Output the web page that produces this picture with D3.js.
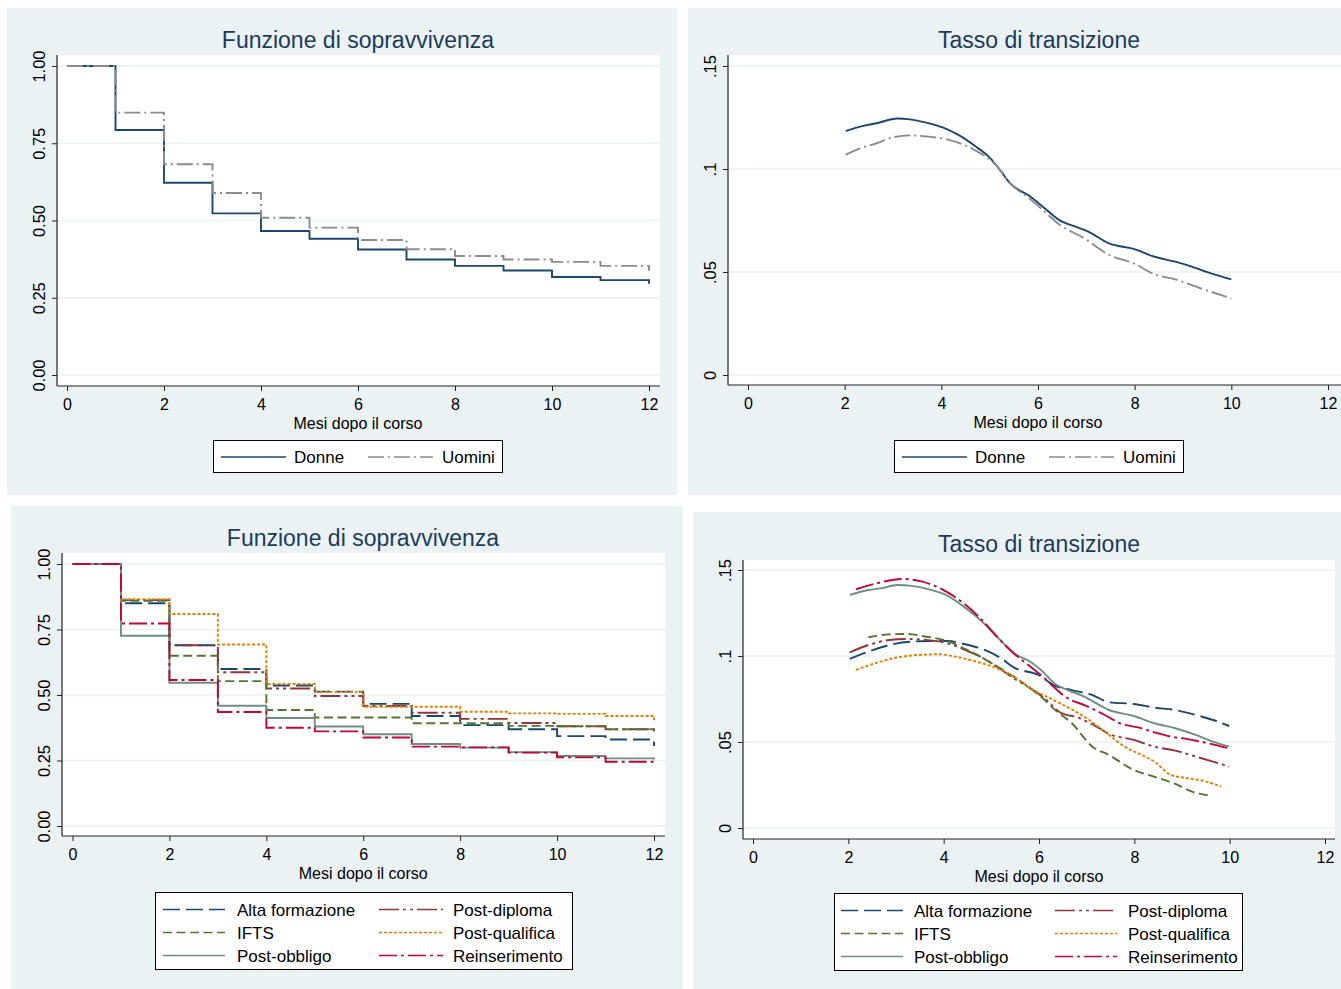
<!DOCTYPE html>
<html>
<head>
<meta charset="utf-8">
<script src="https://cdn.jsdelivr.net/npm/d3@7"></script>
<style>
  body { margin: 0; background: #fff; }
  svg { display: block; font-family: "Liberation Sans", Arial, sans-serif; }
</style>
</head>
<body>
<svg id="chart" width="1341" height="989"></svg>
<script>
// ---- data ----
const xTicks = [0, 2, 4, 6, 8, 10, 12];
const survTicks = [0, 0.25, 0.5, 0.75, 1];
const hazTicks = [0, 0.05, 0.1, 0.15];
const titles = ["Funzione di sopravvivenza", "Tasso di transizione"];
const xTitle = "Mesi dopo il corso";

// survival: value on [m, m+1), last value = value at 12
const months = d3.range(0, 13);
const survDonne  = [1, 0.793, 0.622, 0.523, 0.466, 0.441, 0.406, 0.374, 0.353, 0.338, 0.317, 0.307, 0.295];
const survUomini = [1, 0.849, 0.682, 0.589, 0.509, 0.477, 0.437, 0.407, 0.385, 0.374, 0.366, 0.353, 0.337];

const survAlta    = [1, 0.850, 0.690, 0.599, 0.536, 0.513, 0.466, 0.420, 0.385, 0.369, 0.343, 0.330, 0.305];
const survPostDip = [1, 0.862, 0.690, 0.587, 0.525, 0.496, 0.458, 0.432, 0.409, 0.393, 0.381, 0.369, 0.360];
const survIfts    = [1, 0.860, 0.650, 0.553, 0.443, 0.414, 0.414, 0.392, 0.392, 0.382, 0.381, 0.369, 0.364];
const survPostQua = [1, 0.866, 0.809, 0.693, 0.542, 0.512, 0.455, 0.455, 0.436, 0.430, 0.428, 0.420, 0.404];
const survPostObb = [1, 0.726, 0.547, 0.459, 0.412, 0.380, 0.350, 0.313, 0.299, 0.282, 0.267, 0.258, 0.254];
const survReins   = [1, 0.773, 0.557, 0.435, 0.375, 0.361, 0.338, 0.303, 0.300, 0.280, 0.262, 0.245, 0.240];

// hazard (smoothed)
const hazDonneT  = [2.02, 2.32, 2.66, 3.09, 3.35, 3.69, 4.04, 4.38, 4.72, 4.98, 5.24, 5.41, 5.84, 6.10, 6.44, 6.78, 7.04, 7.47, 7.98, 8.41, 8.84, 9.18, 9.52, 10.0];
const hazDonne   = [0.1184, 0.1206, 0.1222, 0.1245, 0.1241, 0.1225, 0.1201, 0.1162, 0.1108, 0.1060, 0.0987, 0.0934, 0.0866, 0.0817, 0.0752, 0.0720, 0.0696, 0.0639, 0.0612, 0.0574, 0.0550, 0.0526, 0.0498, 0.0464];
const hazUominiT = [2.02, 2.32, 2.66, 3.0, 3.35, 3.69, 4.12, 4.47, 4.81, 5.15, 5.41, 5.84, 6.10, 6.44, 6.96, 7.47, 7.98, 8.41, 8.84, 9.36, 10.0];
const hazUomini  = [0.1069, 0.1100, 0.1125, 0.1154, 0.1163, 0.1158, 0.1144, 0.1117, 0.1076, 0.1015, 0.0934, 0.0854, 0.0801, 0.0731, 0.0663, 0.0583, 0.0542, 0.0489, 0.0464, 0.0421, 0.0372];

const hazAltaT    = [2.03, 2.42, 2.86, 3.29, 3.73, 4.08, 4.42, 4.86, 5.21, 5.47, 5.99, 6.34, 6.69, 7.12, 7.47, 7.99, 8.42, 8.86, 9.29, 9.65, 9.99];
const hazAlta     = [0.0983, 0.1025, 0.1064, 0.1083, 0.1087, 0.1087, 0.1070, 0.1035, 0.0986, 0.0934, 0.0890, 0.0826, 0.0802, 0.0773, 0.0731, 0.0721, 0.0700, 0.0686, 0.0657, 0.0628, 0.0593];
const hazPostDipT = [2.03, 2.42, 2.86, 3.21, 3.64, 4.08, 4.42, 4.77, 5.12, 5.47, 5.82, 6.16, 6.42, 6.86, 7.21, 7.47, 7.99, 8.42, 8.86, 9.29, 9.65, 9.99];
const hazPostDip  = [0.1021, 0.1064, 0.1093, 0.1099, 0.1093, 0.1074, 0.1039, 0.0996, 0.0938, 0.0870, 0.0812, 0.0744, 0.0676, 0.0638, 0.0589, 0.0547, 0.0512, 0.0473, 0.0450, 0.0415, 0.0386, 0.0357];
const hazIftsT    = [2.42, 2.86, 3.21, 3.64, 4.08, 4.42, 4.77, 5.12, 5.47, 5.82, 6.08, 6.34, 6.69, 7.12, 7.47, 7.99, 8.42, 8.86, 9.21, 9.60];
const hazIfts     = [0.1109, 0.1126, 0.1128, 0.1112, 0.1087, 0.1045, 0.0996, 0.0938, 0.0880, 0.0812, 0.0754, 0.0686, 0.0609, 0.0473, 0.0424, 0.0337, 0.0298, 0.0256, 0.0211, 0.0188];
const hazPostQuaT = [2.16, 2.60, 3.03, 3.47, 3.90, 4.25, 4.69, 5.12, 5.47, 5.82, 6.16, 6.51, 6.95, 7.38, 7.82, 8.16, 8.42, 8.77, 9.12, 9.47, 9.82];
const hazPostQua  = [0.0919, 0.0961, 0.0992, 0.1006, 0.1010, 0.0996, 0.0967, 0.0928, 0.0880, 0.0812, 0.0764, 0.0715, 0.0647, 0.0560, 0.0469, 0.0424, 0.0386, 0.0308, 0.0289, 0.0273, 0.0240];
const hazPostObbT = [2.03, 2.42, 2.68, 3.03, 3.29, 3.73, 4.08, 4.42, 4.77, 5.12, 5.47, 5.82, 6.08, 6.34, 6.60, 6.95, 7.47, 7.99, 8.42, 8.86, 9.29, 9.65, 9.99];
const hazPostObb  = [0.1355, 0.1384, 0.1393, 0.1413, 0.1409, 0.1384, 0.1351, 0.1287, 0.1209, 0.1112, 0.1016, 0.0967, 0.0909, 0.0837, 0.0802, 0.0764, 0.0686, 0.0651, 0.0609, 0.0580, 0.0541, 0.0502, 0.0473];
const hazReinsT   = [2.16, 2.60, 3.12, 3.55, 3.99, 4.42, 4.77, 5.12, 5.47, 5.82, 6.08, 6.34, 6.60, 6.95, 7.38, 7.73, 8.08, 8.42, 8.77, 9.12, 9.56, 9.99];
const hazReins    = [0.1388, 0.1423, 0.1448, 0.1432, 0.1384, 0.1306, 0.1219, 0.1112, 0.1016, 0.0938, 0.0880, 0.0812, 0.0754, 0.0715, 0.0657, 0.0605, 0.0585, 0.0556, 0.0531, 0.0517, 0.0492, 0.0463];

// ---- styles ----
const styles = {
  "Donne":           { color: "#1a476f", dash: null },
  "Uomini":          { color: "#8c8c8c", dash: "16,4,2,4" },
  "Alta formazione": { color: "#1a476f", dash: "17,6" },
  "Post-diploma":    { color: "#90353b", dash: "20,4,3,4,3,4" },
  "IFTS":            { color: "#55752f", dash: "9,4.5" },
  "Post-qualifica":  { color: "#e37e00", dash: "3,2" },
  "Post-obbligo":    { color: "#6e8e84", dash: null },
  "Reinserimento":   { color: "#c10534", dash: "18,4,3,4" }
};

const bgColor = "#eaf2f3";
const titleColor = "#1c3b5e";
const svg = d3.select("#chart");

function survSeries(name, vals) {
  return { name, pts: months.map((m, i) => [m, vals[i]]), step: true };
}
function hazSeries(name, ts, vals) {
  return { name, pts: ts.map((t, i) => [t, vals[i]]), step: false };
}

function drawPanel(cfg) {
  const g = svg.append("g");
  const [pl, pt, pr, pb] = cfg.plot;

  g.append("rect")
    .attr("x", cfg.bg[0]).attr("y", cfg.bg[1])
    .attr("width", cfg.bg[2]).attr("height", cfg.bg[3])
    .attr("fill", bgColor);

  g.append("rect")
    .attr("x", pl).attr("y", pt)
    .attr("width", pr - pl).attr("height", pb - pt)
    .attr("fill", "#fff");

  const x = d3.scaleLinear().domain([0, 12]).range(cfg.xr);
  const y = d3.scaleLinear().domain(cfg.yd).range(cfg.yr);

  g.selectAll("line.grid")
    .data(cfg.yticks)
    .join("line")
    .attr("class", "grid")
    .attr("x1", pl).attr("x2", pr)
    .attr("y1", d => y(d)).attr("y2", d => y(d))
    .attr("stroke", bgColor)
    .attr("stroke-width", 1.6);

  const line = d3.line().x(d => x(d[0])).y(d => y(d[1]));

  cfg.series.forEach(s => {
    line.curve(s.step ? d3.curveStepAfter : d3.curveMonotoneX);
    g.append("path")
      .attr("d", line(s.pts))
      .attr("fill", "none")
      .attr("stroke", styles[s.name].color)
      .attr("stroke-width", 1.9)
      .attr("stroke-dasharray", styles[s.name].dash);
  });

  // y axis
  const ya = g.append("g")
    .attr("transform", `translate(${pl},0)`)
    .call(d3.axisLeft(y).tickValues(cfg.yticks).tickFormat(cfg.yfmt).tickSize(5).tickSizeOuter(0));
  ya.select(".domain").remove();
  ya.selectAll("line").attr("stroke", "#222");
  ya.selectAll("text")
    .attr("x", 0).attr("dy", 0)
    .attr("transform", "translate(-12,0) rotate(-90)")
    .attr("text-anchor", "middle")
    .attr("font-size", 16.5)
    .attr("font-family", "Liberation Sans, Arial, sans-serif")
    .attr("fill", "#000");

  // x axis
  const xa = g.append("g")
    .attr("transform", `translate(0,${pb})`)
    .call(d3.axisBottom(x).tickValues(xTicks).tickSize(5).tickSizeOuter(0).tickPadding(8));
  xa.select(".domain").remove();
  xa.selectAll("line").attr("stroke", "#222");
  xa.selectAll("text")
    .attr("font-size", 16)
    .attr("font-family", "Liberation Sans, Arial, sans-serif")
    .attr("fill", "#000");

  g.append("line").attr("x1", pl).attr("x2", pl).attr("y1", pt).attr("y2", pb)
    .attr("stroke", "#222").attr("stroke-width", 1.2);
  g.append("line").attr("x1", pl).attr("x2", pr).attr("y1", pb).attr("y2", pb)
    .attr("stroke", "#222").attr("stroke-width", 1.2);

  g.append("text")
    .attr("x", cfg.titleX).attr("y", cfg.titleY)
    .attr("text-anchor", "middle")
    .attr("font-size", 23)
    .attr("fill", titleColor)
    .text(cfg.title);

  g.append("text")
    .attr("x", (cfg.xr[0] + cfg.xr[1]) / 2).attr("y", pb + 43)
    .attr("text-anchor", "middle")
    .attr("font-size", 16)
    .attr("fill", "#000")
    .text(xTitle);

  // legend
  const L = cfg.legend;
  g.append("rect")
    .attr("x", L.box[0] + 0.5).attr("y", L.box[1] + 0.5)
    .attr("width", L.box[2]).attr("height", L.box[3])
    .attr("fill", "#fff").attr("stroke", "#000").attr("stroke-width", 1);

  cfg.series.forEach((s, i) => {
    const col = i % L.cols.length, row = Math.floor(i / L.cols.length);
    const c = L.cols[col];
    const ly = L.box[1] + L.row0 + row * L.rowH;
    g.append("line")
      .attr("x1", L.box[0] + c[0]).attr("x2", L.box[0] + c[1])
      .attr("y1", ly).attr("y2", ly)
      .attr("stroke", styles[s.name].color)
      .attr("stroke-width", 1.7)
      .attr("stroke-dasharray", styles[s.name].dash);
    g.append("text")
      .attr("x", L.box[0] + c[2]).attr("y", ly + 6)
      .attr("font-size", 17)
      .attr("fill", "#000")
      .text(s.name);
  });
}

const survFmt = d3.format(".2f");
const hazFmt = d => d === 0 ? "0" : String(d).replace(/^0/, "");

drawPanel({
  bg: [7, 8, 670, 487], plot: [57, 55, 660, 386],
  xr: [67, 649], yd: [0, 1], yr: [375, 66], yticks: survTicks, yfmt: survFmt,
  title: titles[0], titleX: 358, titleY: 48,
  series: [survSeries("Donne", survDonne), survSeries("Uomini", survUomini)],
  legend: { box: [213, 440, 289, 32], cols: [[8, 73, 81], [155, 220, 229]], row0: 17, rowH: 23 }
});

drawPanel({
  bg: [688, 8, 660, 487], plot: [728, 55, 1341, 385],
  xr: [748, 1328], yd: [0, 0.15], yr: [375, 66], yticks: hazTicks, yfmt: hazFmt,
  title: titles[1], titleX: 1039, titleY: 48,
  series: [hazSeries("Donne", hazDonneT, hazDonne), hazSeries("Uomini", hazUominiT, hazUomini)],
  legend: { box: [894, 440, 289, 32], cols: [[8, 73, 81], [155, 220, 229]], row0: 17, rowH: 23 }
});

drawPanel({
  bg: [11, 506, 672, 483], plot: [62, 553, 665, 836],
  xr: [72.5, 654], yd: [0, 1], yr: [826, 564], yticks: survTicks, yfmt: survFmt,
  title: titles[0], titleX: 363, titleY: 546,
  series: [
    survSeries("Alta formazione", survAlta), survSeries("Post-diploma", survPostDip),
    survSeries("IFTS", survIfts), survSeries("Post-qualifica", survPostQua),
    survSeries("Post-obbligo", survPostObb), survSeries("Reinserimento", survReins)
  ],
  legend: { box: [155, 892, 417, 77], cols: [[8, 70, 82], [224, 288, 298]], row0: 17.5, rowH: 23 }
});

drawPanel({
  bg: [693, 512, 660, 477], plot: [743, 560, 1335, 839],
  xr: [753, 1325], yd: [0, 0.15], yr: [828, 570], yticks: hazTicks, yfmt: hazFmt,
  title: titles[1], titleX: 1039, titleY: 552,
  series: [
    hazSeries("Alta formazione", hazAltaT, hazAlta), hazSeries("Post-diploma", hazPostDipT, hazPostDip),
    hazSeries("IFTS", hazIftsT, hazIfts), hazSeries("Post-qualifica", hazPostQuaT, hazPostQua),
    hazSeries("Post-obbligo", hazPostObbT, hazPostObb), hazSeries("Reinserimento", hazReinsT, hazReins)
  ],
  legend: { box: [834, 893, 408, 77], cols: [[7, 69, 80], [221, 283, 294]], row0: 17.5, rowH: 23 }
});
</script>
</body>
</html>
